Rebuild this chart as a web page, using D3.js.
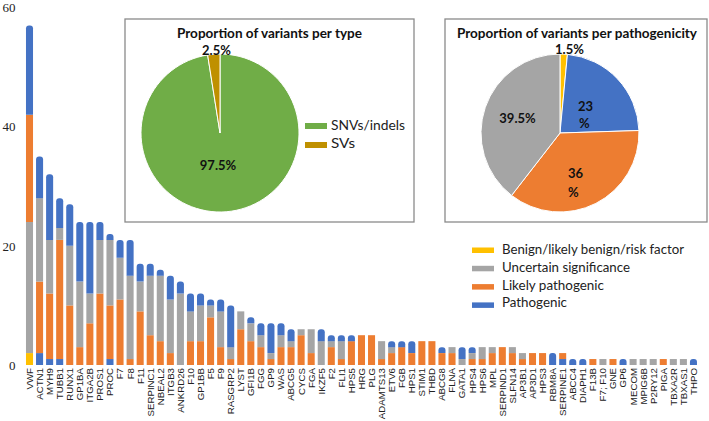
<!DOCTYPE html>
<html><head><meta charset="utf-8">
<script src="https://cdn.jsdelivr.net/npm/d3@7"></script>
<style>body{margin:0;background:#fff}svg{display:block}</style>
</head><body><svg id="c" width="709" height="421"></svg>
<script>
const genes = ["VWF","ACTN1","MYH9","TUBB1","RUNX1","GP1BA","ITGA2B","PROS1","PROC","F7","F8","F11","SERPINC1","NBEAL2","ITGB3","ANKRD26","F10","GP1BB","F5","F9","RASGRP2","LYST","GFI1B","FGG","GP9","WAS","ABCG5","CYCS","FGA","IKZF5","F2","FLI1","HPS5","HRG","PLG","ADAMTS13","ETV6","FGB","HPS1","STIM1","THBD","ABCG8","FLNA","GATA1","HPS4","HPS6","MPL","SERPIND1","SLFN14","AP3B1","AP3D1","HPS3","RBM8A","SERPINE1","ABCC4","DIAPH1","F13B","F7; F10","GNE","GP6","MECOM","MPIG6B","P2RY12","PIGA","TBXA2R","TBXAS1","THPO"];
// lower pathogenic block (drawn at the bottom of some bars)
const pathogenicLow = [0,2,1,1,0,0,0,0,1,0,0,0,0,0,0,0,0,0,0,0,0,0,0,0,0,0,0,0,0,0,0,0,0,0,0,0,0,0,0,0,0,0,0,0,0,0,0,0,0,0,0,0,0,1,0,0,0,0,0,0,0,0,0,0,0,0,0];
const benign = [2,0,0,0,0,0,0,0,0,0,0,0,0,0,0,0,0,0,0,0,0,0,0,0,0,0,0,0,0,0,0,0,0,0,0,0,0,0,0,0,0,0,0,0,0,0,0,0,0,0,0,0,0,0,0,0,0,0,0,0,0,0,0,0,0,0,0];
// uncertain block below likely pathogenic (VWF only)
const uncertainLow = [22,0,0,0,0,0,0,0,0,0,0,0,0,0,0,0,0,0,0,0,0,0,0,0,0,0,0,0,0,0,0,0,0,0,0,0,0,0,0,0,0,0,0,0,0,0,0,0,0,0,0,0,0,0,0,0,0,0,0,0,0,0,0,0,0,0,0];
const likelyPathogenic = [18,12,11,20,10,3,7,12,9,11,1,9,5,4,2,0,4,4,8,3,1,6,4,3,1,3,3,5,2,0,3,1,4,5,5,1,2,3,2,4,4,2,2,0,1,1,2,3,2,1,2,2,0,1,0,0,1,0,1,0,0,0,0,1,0,0,0];
const uncertain = [0,14,9,2,10,11,5,9,11,7,14,5,10,11,9,12,5,6,2,6,2,3,3,2,1,2,1,1,4,4,1,3,0,0,0,3,1,0,0,0,0,0,1,1,1,2,1,0,1,1,0,0,0,0,0,0,0,1,0,0,1,1,1,0,1,1,0];
const pathogenic = [15,7,11,5,7,10,12,3,1,3,6,3,2,1,4,2,3,2,1,2,7,0,1,2,5,2,2,0,0,2,1,1,1,0,0,0,1,1,2,0,0,1,0,2,1,0,0,0,0,0,0,0,2,0,1,1,0,0,0,1,0,0,0,0,0,0,1];
const yTicks = [0,20,40,60];

const typeLabels = ["SNVs/indels","SVs"];
const typeValues = [97.5,2.5];
const pathLabels = ["Benign/likely benign/risk factor","Pathogenic","Likely pathogenic","Uncertain significance"];
const pathValues = [1.5,23,36,39.5];
const pathLegend = ["Benign/likely benign/risk factor","Uncertain significance","Likely pathogenic","Pathogenic"];

const C = {blue:"#4472C4", orange:"#ED7D31", gray:"#A5A5A5", yellow:"#FFC000", green:"#70AD47", gold:"#BF9000"};
const keys = ["pathogenicLow","benign","uncertainLow","likelyPathogenic","uncertain","pathogenic"];
const keyColor = {pathogenicLow:C.blue, benign:C.yellow, uncertainLow:C.gray, likelyPathogenic:C.orange, uncertain:C.gray, pathogenic:C.blue};
const src = {pathogenicLow, benign, uncertainLow, likelyPathogenic, uncertain, pathogenic};
const rows = genes.map((g,i)=>{const o={gene:g}; keys.forEach(k=>o[k]=src[k][i]); return o;});

const svg = d3.select("#c");
const x = d3.scaleBand().domain(genes).range([22.46,700.5]).paddingInner(0.3).paddingOuter(0.35);
const y = d3.scaleLinear().domain([0,60]).range([365,7.5]);

// y tick labels
const yAxis = d3.axisLeft(y).tickValues(yTicks).tickSize(0).tickPadding(0);
const ya = svg.append("g").attr("transform","translate(15.5,0)").call(yAxis);
ya.select(".domain").remove();
ya.selectAll("text").attr("font-family","'Liberation Serif','DejaVu Serif',serif").attr("font-size",13).attr("fill","#222");

// bars
const stack = d3.stack().keys(keys)(rows);
function roundedTop(x0,y0,w,h,r){ r=Math.min(r,h,w/2); return `M${x0},${y0+h}V${y0+r}Q${x0},${y0} ${x0+r},${y0}H${x0+w-r}Q${x0+w},${y0} ${x0+w},${y0+r}V${y0+h}Z`; }
stack.forEach(layer=>{
  const g = svg.append("g").attr("fill", keyColor[layer.key]);
  layer.forEach(d=>{
    if(d[1]-d[0] <= 0) return;
    const x0 = x(d.data.gene), w = x.bandwidth(), yt = y(d[1]), h = y(d[0])-y(d[1]);
    if(layer.key==="pathogenic") g.append("path").attr("d", roundedTop(x0,yt,w,h,3));
    else g.append("rect").attr("x",x0).attr("y",yt).attr("width",w).attr("height",h);
  });
});

// x labels
const xAxis = d3.axisBottom(x).tickSize(0).tickPadding(0);
const xa = svg.append("g").attr("transform","translate(0,368)").call(xAxis);
xa.select(".domain").remove();
xa.selectAll("text").attr("font-family","'Liberation Sans',Arial,sans-serif").attr("font-size",9.7).attr("fill","#222")
  .attr("text-anchor","end").attr("transform","rotate(-90)").attr("x",0).attr("y",0).attr("dy","0.35em");

// inset boxes
const titleFont = "Lato,'Open Sans',sans-serif";
function box(x0,y0,w,h){ svg.append("rect").attr("x",x0).attr("y",y0).attr("width",w).attr("height",h).attr("fill","#fff").attr("stroke","#8a8a8a").attr("stroke-width",1.3); }
box(125,19,289,203);
box(445,19,262,203);

svg.append("text").attr("x",269.5).attr("y",38).attr("text-anchor","middle").attr("font-family",titleFont).attr("font-weight","bold").attr("font-size",13)
  .attr("textLength",185).attr("lengthAdjust","spacingAndGlyphs").attr("fill","#111").text("Proportion of variants per type");
svg.append("text").attr("x",577).attr("y",38).attr("text-anchor","middle").attr("font-family",titleFont).attr("font-weight","bold").attr("font-size",13)
  .attr("textLength",240).attr("lengthAdjust","spacingAndGlyphs").attr("fill","#111").text("Proportion of variants per pathogenicity");

const pie = d3.pie().sort(null).value(d=>d);
const arc = d3.arc().innerRadius(0).outerRadius(79);

// pie 1
const typeColors = [C.green, C.gold];
const p1 = svg.append("g").attr("transform","translate(220,133)");
p1.selectAll("path").data(pie(typeValues)).join("path").attr("d",arc).attr("fill",(d,i)=>typeColors[i]).attr("stroke","#fff").attr("stroke-width",1);
const lbl = (g,x0,y0,t,anchor)=>g.append("text").attr("x",x0).attr("y",y0).attr("text-anchor",anchor||"middle").attr("font-family",titleFont).attr("font-weight","bold").attr("font-size",13).attr("fill","#111").text(t);
lbl(svg,216.5,55,typeValues[1]+"%");
lbl(svg,218,170,typeValues[0]+"%");
// legend 1
typeLabels.forEach((t,i)=>{
  svg.append("rect").attr("x",305).attr("y",123+i*19).attr("width",22).attr("height",6).attr("fill",typeColors[i]);
  svg.append("text").attr("x",331).attr("y",130+i*18).attr("font-family",titleFont).attr("font-size",13).attr("fill","#222")
    .attr("textLength", i===0?74:24).attr("lengthAdjust","spacingAndGlyphs").text(t);
});

// pie 2
const pathColors = [C.yellow, C.blue, C.orange, C.gray];
const p2 = svg.append("g").attr("transform","translate(560,133)");
p2.selectAll("path").data(pie(pathValues)).join("path").attr("d",arc).attr("fill",(d,i)=>pathColors[i]).attr("stroke","#fff").attr("stroke-width",1);
lbl(svg,569.5,54,pathValues[0]+"%");
lbl(svg,578,111,pathValues[1],"start");
lbl(svg,579,128,"%","start");
lbl(svg,517.5,123,pathValues[3]+"%");
lbl(svg,568,178,pathValues[2],"start");
lbl(svg,568,197,"%","start");

// legend 2
const legColors = [C.yellow, C.gray, C.orange, C.blue];
const legW = [182,128,102,65];
pathLegend.forEach((t,i)=>{
  svg.append("rect").attr("x",472).attr("y",247.5+i*18.3).attr("width",22).attr("height",5.5).attr("fill",legColors[i]);
  svg.append("text").attr("x",502).attr("y",254+i*17.8).attr("font-family",titleFont).attr("font-size",13.5).attr("fill","#222")
    .attr("textLength",legW[i]).attr("lengthAdjust","spacingAndGlyphs").text(t);
});
</script></body></html>
